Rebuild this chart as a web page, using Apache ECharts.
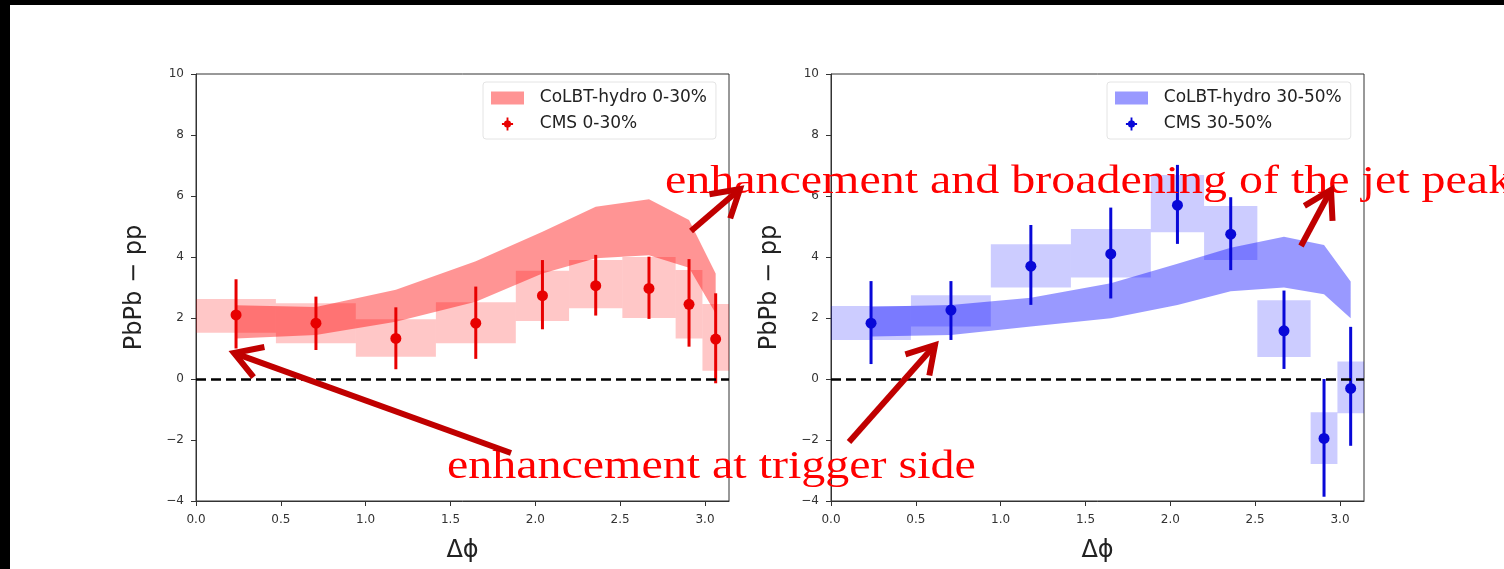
<!DOCTYPE html>
<html>
<head>
<meta charset="utf-8">
<script src="https://cdn.jsdelivr.net/npm/echarts@6/dist/echarts.min.js"></script>
<style>
  html, body { margin: 0; padding: 0; background: #ffffff; }
  #chart { width: 1504px; height: 569px; }
</style>
</head>
<body>
<div id="chart"></div>
<script>
// Δφ binning shared by both centrality classes
const binEdges   = [0, 0.471, 0.942, 1.414, 1.885, 2.199, 2.513, 2.827, 2.985, 3.1416];
const binCenters = [0.236, 0.707, 1.178, 1.649, 2.042, 2.356, 2.670, 2.906, 3.063];

// axis ticks
const xTicks = [0.0, 0.5, 1.0, 1.5, 2.0, 2.5, 3.0];
const yTicks = [-4, -2, 0, 2, 4, 6, 8, 10];

// 0-30% centrality
const cms0       = [2.10, 1.83, 1.33, 1.83, 2.73, 3.06, 2.97, 2.45, 1.31];
const cms0StatLo = [1.00, 0.95, 0.32, 0.66, 1.63, 2.08, 1.97, 1.06, -0.14];
const cms0StatHi = [3.27, 2.70, 2.35, 3.03, 3.90, 4.07, 4.01, 3.93, 2.81];
const cms0SysLo  = [1.52, 1.17, 0.73, 1.17, 1.90, 2.32, 2.00, 1.33, 0.27];
const cms0SysHi  = [2.62, 2.48, 1.96, 2.52, 3.55, 3.90, 4.00, 3.57, 2.46];
const colbt0Lo   = [1.33, 1.44, 1.88, 2.53, 3.46, 3.96, 4.06, 3.65, 2.15];
const colbt0Hi   = [2.42, 2.36, 2.93, 3.86, 4.83, 5.65, 5.89, 5.21, 3.46];

// 30-50% centrality
const cms30       = [1.83, 2.26, 3.70, 4.10, 5.70, 4.75, 1.58, -1.95, -0.31];
const cms30StatLo = [0.49, 1.28, 2.43, 2.64, 4.43, 3.57, 0.33, -3.86, -2.19];
const cms30StatHi = [3.21, 3.21, 5.05, 5.62, 7.02, 5.96, 2.90, 0.00, 1.71];
const cms30SysLo  = [1.28, 1.72, 3.00, 3.33, 4.81, 3.90, 0.72, -2.79, -1.12];
const cms30SysHi  = [2.39, 2.75, 4.42, 4.92, 6.69, 5.67, 2.58, -1.09, 0.57];
const colbt30Lo   = [1.39, 1.44, 1.72, 1.99, 2.43, 2.88, 3.00, 2.78, 1.99];
const colbt30Hi   = [2.37, 2.43, 2.66, 3.14, 3.78, 4.30, 4.66, 4.39, 3.20];

const labels0  = ['CoLBT-hydro 0-30%', 'CMS 0-30%'];
const labels30 = ['CoLBT-hydro 30-50%', 'CMS 30-50%'];

const RED = { band: 'rgba(255,0,0,0.42)', box: 'rgba(255,0,0,0.22)', point: '#e80000' };
const BLUE = { band: 'rgba(0,0,255,0.40)', box: 'rgba(0,0,255,0.20)', point: '#0808d8' };

const FONT = 'DejaVu Sans';
// filled errorbar marker for the legend: a plus with an octagonal core
const markerIcon = 'path://M6,0L8,0L8,6L13,6L13,8L8,8L8,14L6,14L6,8L1,8L1,6L6,6Z' +
  'M7,2.8L10,4L11.2,7L10,10L7,11.2L4,10L2.8,7L4,4Z';

// theory band: one polygon through upper edge then back along lower edge
function bandSeries(name, gi, lo, hi, color) {
  return {
    type: 'custom', name, xAxisIndex: gi, yAxisIndex: gi, z: 3,
    itemStyle: { color },
    data: binCenters.map((x, i) => [x, lo[i], hi[i]]),
    renderItem(params, api) {
      if (params.dataIndex !== 0) return null;
      const pts = [];
      for (let i = 0; i < binCenters.length; i++) pts.push(api.coord([binCenters[i], hi[i]]));
      for (let i = binCenters.length - 1; i >= 0; i--) pts.push(api.coord([binCenters[i], lo[i]]));
      return { type: 'polygon', shape: { points: pts }, style: { fill: color } };
    }
  };
}

// systematic uncertainty boxes spanning each Δφ bin
function boxSeries(gi, lo, hi, color) {
  return {
    type: 'custom', xAxisIndex: gi, yAxisIndex: gi, z: 2,
    data: binCenters.map((c, i) => [binEdges[i], binEdges[i + 1], lo[i], hi[i]]),
    renderItem(params, api) {
      const a = api.coord([api.value(0), api.value(3)]);
      const b = api.coord([api.value(1), api.value(2)]);
      return { type: 'rect', shape: { x: a[0], y: a[1], width: b[0] - a[0], height: b[1] - a[1] }, style: { fill: color } };
    }
  };
}

// statistical error bars
function errSeries(gi, lo, hi, color) {
  return {
    type: 'custom', xAxisIndex: gi, yAxisIndex: gi, z: 4,
    data: binCenters.map((x, i) => [x, lo[i], hi[i]]),
    renderItem(params, api) {
      const a = api.coord([api.value(0), api.value(1)]);
      const b = api.coord([api.value(0), api.value(2)]);
      return { type: 'line', shape: { x1: a[0], y1: a[1], x2: b[0], y2: b[1] }, style: { stroke: color, lineWidth: 3 } };
    }
  };
}

function pointSeries(name, gi, ys, color) {
  return {
    type: 'scatter', name, xAxisIndex: gi, yAxisIndex: gi, z: 5,
    symbol: 'circle', symbolSize: 11, symbolKeepAspect: true,
    itemStyle: { color, opacity: 1 },
    data: binCenters.map((x, i) => [x, ys[i]]),
    markLine: {
      silent: true, symbol: 'none', z: 6,
      label: { show: false },
      lineStyle: { color: '#000', width: 2.6, type: [10, 5], opacity: 1 },
      emphasis: { disabled: true },
      data: [{ yAxis: 0 }]
    }
  };
}

function makeLegend(names, left, colors) {
  return {
    orient: 'vertical', left, top: 82,
    padding: [7, 9, 6, 8], itemGap: 8, itemWidth: 33, itemHeight: 13,
    backgroundColor: 'rgba(255,255,255,0.8)', borderColor: '#e4e4e4', borderWidth: 1, borderRadius: 3,
    textStyle: { fontFamily: FONT, fontSize: 17, color: '#222', lineHeight: 18 },
    formatter: n => '  ' + n,
    selectedMode: false,
    data: [
      { name: names[0], icon: 'rect' },
      { name: names[1], icon: markerIcon, itemStyle: { color: colors.point, borderWidth: 0, opacity: 1 } }
    ]
  };
}

function makeX(gi) {
  return {
    type: 'value', gridIndex: gi, min: xTicks[0], max: binEdges[binEdges.length - 1], interval: 0.5,
    name: 'Δϕ', nameLocation: 'middle', nameGap: 38,
    nameTextStyle: { fontFamily: FONT, fontSize: 24, color: '#222' },
    axisLine: { show: true, onZero: false, lineStyle: { color: '#333', width: 1 } },
    axisTick: { show: true, length: 5, customValues: xTicks, lineStyle: { color: '#333' } },
    axisLabel: { customValues: xTicks, formatter: v => v.toFixed(1), fontFamily: FONT, fontSize: 12, color: '#333', margin: 13 },
    splitLine: { show: false }
  };
}

function makeY(gi) {
  return {
    type: 'value', gridIndex: gi, min: yTicks[0], max: yTicks[yTicks.length - 1], interval: 2,
    name: 'PbPb − pp', nameLocation: 'middle', nameGap: 49, nameRotate: 90,
    nameTextStyle: { fontFamily: FONT, fontSize: 24, color: '#222' },
    axisLine: { show: true, onZero: false, lineStyle: { color: '#333', width: 1 } },
    axisTick: { show: true, length: 5, customValues: yTicks, lineStyle: { color: '#333' } },
    axisLabel: { customValues: yTicks, formatter: v => (v < 0 ? '−' + Math.abs(v) : String(v)), fontFamily: FONT, fontSize: 12, color: '#333', margin: 12 },
    splitLine: { show: false }
  };
}

// thick dark-red arrow with an open chevron head
function arrow(tail, tip) {
  const dx = tail[0] - tip[0], dy = tail[1] - tip[1];
  const len = Math.hypot(dx, dy), ux = dx / len, uy = dy / len;
  const arm = 31, ang = 31 * Math.PI / 180;
  const rot = (a) => [tip[0] + arm * (ux * Math.cos(a) - uy * Math.sin(a)), tip[1] + arm * (ux * Math.sin(a) + uy * Math.cos(a))];
  const stroke = { stroke: '#c00000', lineWidth: 6, fill: null };
  return [
    { type: 'line', z: 100, shape: { x1: tail[0], y1: tail[1], x2: tip[0] + ux * 2, y2: tip[1] + uy * 2 }, style: Object.assign({ lineCap: 'butt' }, stroke) },
    { type: 'polyline', z: 100, shape: { points: [rot(ang), tip, rot(-ang)] }, style: Object.assign({ lineJoin: 'miter', lineCap: 'butt' }, stroke) }
  ];
}

function note(text, x, y) {
  return {
    type: 'text', z: 100, x, y, scaleX: 1.23, originX: 0, originY: 0,
    style: { text, fill: '#ff0000', font: '39px "Liberation Serif"', verticalAlign: 'middle', align: 'left' }
  };
}

const chart = echarts.init(document.getElementById('chart'), null, { renderer: 'canvas' });
chart.setOption({
  animation: false,
  backgroundColor: '#ffffff',
  grid: [
    { left: 196, top: 74, width: 533, height: 427, show: true, borderColor: '#333', borderWidth: 1, backgroundColor: 'transparent' },
    { left: 831, top: 74, width: 533, height: 427, show: true, borderColor: '#333', borderWidth: 1, backgroundColor: 'transparent' }
  ],
  xAxis: [makeX(0), makeX(1)],
  yAxis: [makeY(0), makeY(1)],
  legend: [makeLegend(labels0, 483, RED), makeLegend(labels30, 1107, BLUE)],
  series: [
    boxSeries(0, cms0SysLo, cms0SysHi, RED.box),
    bandSeries(labels0[0], 0, colbt0Lo, colbt0Hi, RED.band),
    errSeries(0, cms0StatLo, cms0StatHi, RED.point),
    pointSeries(labels0[1], 0, cms0, RED.point),
    boxSeries(1, cms30SysLo, cms30SysHi, BLUE.box),
    bandSeries(labels30[0], 1, colbt30Lo, colbt30Hi, BLUE.band),
    errSeries(1, cms30StatLo, cms30StatHi, BLUE.point),
    pointSeries(labels30[1], 1, cms30, BLUE.point)
  ],
  graphic: [
    { type: 'rect', z: 100, shape: { x: 0, y: 0, width: 1504, height: 5 }, style: { fill: '#000' } },
    { type: 'rect', z: 100, shape: { x: 0, y: 0, width: 10, height: 569 }, style: { fill: '#000' } },
    note('enhancement and broadening of the jet peak', 665, 183),
    note('enhancement at trigger side', 447, 468),
    ...arrow([511, 453], [234, 353]),
    ...arrow([849, 442], [935, 345]),
    ...arrow([691, 231], [740, 189]),
    ...arrow([1301, 246], [1331, 190])
  ]
});
</script>
</body>
</html>
